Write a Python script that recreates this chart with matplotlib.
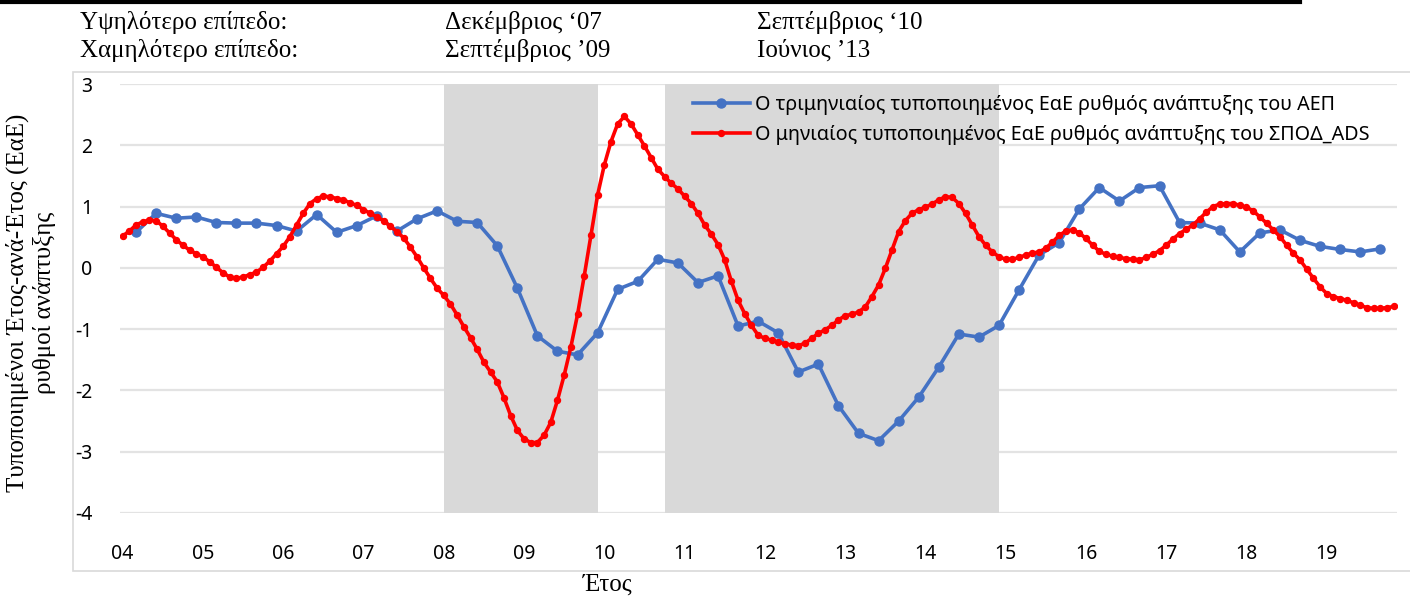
import numpy as np
import matplotlib.pyplot as plt
from matplotlib.patches import Rectangle
from matplotlib.lines import Line2D

plt.rcParams['axes.unicode_minus'] = False

# year labels on the x axis (one tick per January)
year_labels = ['04', '05', '06', '07', '08', '09', '10', '11', '12', '13',
               '14', '15', '16', '17', '18', '19']

# quarterly standardised y-o-y GDP growth (Mar 2004 .. Sep 2019)
gdp_q = [0.58, 0.89, 0.81, 0.83, 0.74, 0.73, 0.73, 0.69, 0.60, 0.87,
         0.58, 0.69, 0.85, 0.60, 0.80, 0.93, 0.76, 0.74, 0.36, -0.33,
         -1.11, -1.36, -1.42, -1.06, -0.35, -0.22, 0.14, 0.08, -0.24, -0.13,
         -0.95, -0.87, -1.06, -1.70, -1.57, -2.25, -2.70, -2.82, -2.50, -2.11,
         -1.62, -1.08, -1.13, -0.94, -0.36, 0.21, 0.41, 0.96, 1.31, 1.09,
         1.31, 1.34, 0.74, 0.73, 0.62, 0.26, 0.57, 0.62, 0.45, 0.35,
         0.30, 0.26, 0.31]

# monthly standardised y-o-y ADS growth (Jan 2004 .. Nov 2019)
ads_m = [0.52, 0.60, 0.70, 0.75, 0.78, 0.77, 0.68, 0.57, 0.46, 0.37,
         0.29, 0.23, 0.18, 0.10, 0.01, -0.08, -0.15, -0.17, -0.15, -0.11,
         -0.07, 0.01, 0.11, 0.23, 0.35, 0.51, 0.70, 0.89, 1.05, 1.13,
         1.17, 1.16, 1.13, 1.11, 1.06, 1.02, 0.95, 0.89, 0.83, 0.77,
         0.68, 0.59, 0.49, 0.34, 0.18, 0.00, -0.17, -0.33, -0.45, -0.59,
         -0.77, -0.96, -1.14, -1.33, -1.54, -1.70, -1.86, -2.12, -2.41, -2.65,
         -2.79, -2.85, -2.85, -2.73, -2.52, -2.16, -1.75, -1.29, -0.76, -0.13,
         0.53, 1.19, 1.68, 2.06, 2.35, 2.47, 2.35, 2.17, 1.99, 1.80,
         1.61, 1.49, 1.38, 1.29, 1.17, 1.05, 0.89, 0.70, 0.55, 0.38,
         0.13, -0.22, -0.53, -0.75, -0.94, -1.10, -1.15, -1.18, -1.21, -1.24,
         -1.26, -1.27, -1.23, -1.15, -1.07, -1.01, -0.94, -0.85, -0.78, -0.76,
         -0.72, -0.64, -0.47, -0.28, -0.01, 0.29, 0.59, 0.77, 0.89, 0.95,
         0.99, 1.04, 1.11, 1.16, 1.15, 1.05, 0.89, 0.70, 0.51, 0.37,
         0.26, 0.18, 0.14, 0.14, 0.17, 0.21, 0.24, 0.26, 0.32, 0.42,
         0.53, 0.60, 0.62, 0.57, 0.48, 0.37, 0.27, 0.22, 0.19, 0.17,
         0.15, 0.14, 0.13, 0.17, 0.22, 0.28, 0.37, 0.47, 0.56, 0.63,
         0.70, 0.80, 0.91, 1.00, 1.04, 1.05, 1.05, 1.02, 0.99, 0.93,
         0.83, 0.73, 0.62, 0.51, 0.37, 0.24, 0.13, -0.02, -0.17, -0.31,
         -0.42, -0.47, -0.50, -0.53, -0.57, -0.61, -0.65, -0.66, -0.66, -0.65,
         -0.63]

# shaded periods, in months since Jan 2004
shade_periods = [(48, 71), (81, 131)]

legend_labels = ['Ο τριμηνιαίος τυποποιημένος ΕαΕ ρυθμός ανάπτυξης του ΑΕΠ',
                 'Ο μηνιαίος τυποποιημένος ΕαΕ ρυθμός ανάπτυξης του ΣΠΟΔ_ADS']

header_rows = [['Υψηλότερο επίπεδο:', 'Δεκέμβριος ‘07', 'Σεπτέμβριος ‘10'],
               ['Χαμηλότερο επίπεδο:', 'Σεπτέμβριος ’09', 'Ιούνιος ’13']]

x_q = np.arange(len(gdp_q)) * 3 + 2
x_m = np.arange(len(ads_m))

W, H = 1410, 597
fig = plt.figure(figsize=(W / 100, H / 100), dpi=100)
ax = fig.add_axes([120 / W, 1 - 513 / H, 1277 / W, 429 / H])

serif = ['Liberation Serif', 'DejaVu Serif']
sans = ['Noto Sans', 'DejaVu Sans']

# chart area border and the cut-off rule at the very top
fig.patches.append(Rectangle((73 / W, 1 - 571 / H), (W - 72) / W, 499 / H,
                             transform=fig.transFigure, fill=False,
                             edgecolor='#D9D9D9', lw=1.2))
fig.add_artist(Line2D([0, 1300 / W], [1 - 1.5 / H, 1 - 1.5 / H],
                      transform=fig.transFigure, color='black', lw=3))

ax.set_ylim(-4, 3)
ax.set_xlim(-0.4, 190.5)
ax.set_yticks(np.arange(-4, 4))
ax.set_xticks(np.arange(len(year_labels)) * 12)
ax.set_xticklabels(year_labels)
ax.grid(axis='y', color='#E3E3E3', lw=1.6, zorder=0)
ax.set_axisbelow(True)
for s in ax.spines.values():
    s.set_visible(False)
ax.tick_params(axis='both', length=0, labelsize=14)
ax.tick_params(axis='y', pad=20)
ax.tick_params(axis='x', pad=22)
for lab in ax.get_xticklabels() + ax.get_yticklabels():
    lab.set_fontfamily(sans)

for s0, s1 in shade_periods:
    ax.axvspan(s0, s1, color='#D9D9D9', lw=0, zorder=1)

ax.plot(x_q, gdp_q, color='#4472C4', lw=2.6, marker='o', ms=6.5,
        zorder=3, label=legend_labels[0])
ax.plot(x_m, ads_m, color='#FF0000', lw=2.6, marker='o', ms=4.3,
        zorder=4, label=legend_labels[1])

leg = ax.legend(loc='upper left', bbox_to_anchor=(0.44, 1.0), frameon=False,
                prop={'family': sans, 'size': 14.2}, handlelength=2.9,
                handletextpad=0.25, labelspacing=0.5, borderaxespad=0.35,
                borderpad=0.2)

# header rows above the chart
col_x = [80, 445, 757]
for row, y in zip(header_rows, [22, 50]):
    for txt, x in zip(row, col_x):
        fig.text(x / W, 1 - y / H, txt, family=serif, fontsize=18,
                 ha='left', va='center')

fig.text(31 / W, 1 - 303 / H,
         'Τυποποιημένοι Έτος-ανά-Έτος (ΕαΕ)\nρυθμοί ανάπτυξης',
         family=serif, fontsize=18, rotation=90, ha='center', va='center',
         multialignment='center', linespacing=1.2)
fig.text(608 / W, 1 - 585 / H, 'Έτος', family=serif, fontsize=18,
         ha='center', va='center')

fig.savefig('out.png', dpi=100)
